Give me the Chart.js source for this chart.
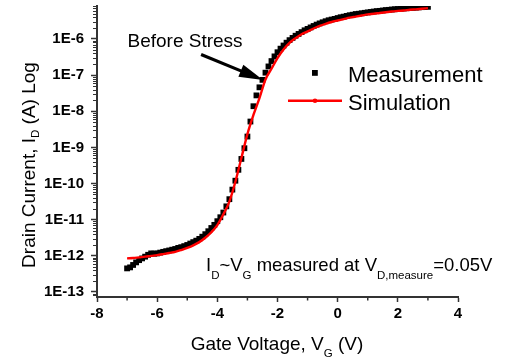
<!DOCTYPE html>
<html>
<head>
<meta charset="utf-8">
<script src="https://cdn.jsdelivr.net/npm/chart.js@4/dist/chart.umd.min.js"></script>
<style>
html,body{margin:0;padding:0;background:#fff;}
#wrap{width:510px;height:362px;position:relative;}
</style>
</head>
<body>
<div id="wrap"><canvas id="c" width="510" height="362"></canvas></div>
<script>
// ---------- DATA ----------
const seriesNames = ['Measurement', 'Simulation'];

const gateVoltageMeas = [
  -7.0,-6.9,-6.8,-6.7,-6.6,-6.5,-6.4,-6.3,-6.2,-6.1,
  -6.0,-5.9,-5.8,-5.7,-5.6,-5.5,-5.4,-5.3,-5.2,-5.1,
  -5.0,-4.9,-4.8,-4.7,-4.6,-4.5,-4.4,-4.3,-4.2,-4.1,
  -4.0,-3.9,-3.8,-3.7,-3.6,-3.5,-3.4,-3.3,-3.2,-3.1,
  -3.0,-2.9,-2.8,-2.7,-2.6,-2.5,-2.4,-2.3,-2.2,-2.1,
  -2.0,-1.9,-1.8,-1.7,-1.6,-1.5,-1.4,-1.3,-1.2,-1.1,
  -1.0,-0.9,-0.8,-0.7,-0.6,-0.5,-0.4,-0.3,-0.2,-0.1,
  0.0,0.1,0.2,0.3,0.4,0.5,0.6,0.7,0.8,0.9,
  1.0,1.1,1.2,1.3,1.4,1.5,1.6,1.7,1.8,1.9,
  2.0,2.1,2.2,2.3,2.4,2.5,2.6,2.7,2.8,2.9,
  3.0
];
const drainCurrentMeas = [
  4.5e-13,4.8e-13,5.6e-13,6.6e-13,7.6e-13,8.5e-13,9.5e-13,1.07e-12,1.17e-12,1.15e-12,
  1.17e-12,1.23e-12,1.29e-12,1.35e-12,1.41e-12,1.48e-12,1.55e-12,1.66e-12,1.74e-12,1.86e-12,
  2.0e-12,2.19e-12,2.4e-12,2.63e-12,2.95e-12,3.39e-12,3.98e-12,4.8e-12,5.9e-12,7.2e-12,
  9.1e-12,1.17e-11,1.58e-11,2.34e-11,3.7e-11,6.8e-11,1.2e-10,2.4e-10,4.8e-10,9.5e-10,
  2.0e-9,5.2e-9,1.38e-8,2.75e-8,4.6e-8,7.4e-8,1.17e-7,1.74e-7,2.45e-7,3.3e-7,
  4.3e-7,5.4e-7,6.6e-7,7.9e-7,9.3e-7,1.07e-6,1.23e-6,1.38e-6,1.55e-6,1.74e-6,
  1.9e-6,2.09e-6,2.29e-6,2.5e-6,2.7e-6,2.9e-6,3.1e-6,3.3e-6,3.45e-6,3.6e-6,
  3.8e-6,4.0e-6,4.15e-6,4.35e-6,4.55e-6,4.7e-6,4.9e-6,5.0e-6,5.15e-6,5.3e-6,
  5.45e-6,5.6e-6,5.75e-6,5.9e-6,6.0e-6,6.15e-6,6.3e-6,6.4e-6,6.55e-6,6.65e-6,
  6.75e-6,6.9e-6,7.0e-6,7.1e-6,7.2e-6,7.3e-6,7.4e-6,7.5e-6,7.6e-6,7.7e-6,
  7.75e-6
];

const gateVoltageSim = [
  -7.0,-6.8,-6.6,-6.4,-6.2,-6.0,-5.8,-5.6,-5.4,-5.2,
  -5.0,-4.8,-4.6,-4.4,-4.2,
  -4.0,-3.8,-3.6,-3.4,-3.2,-3.0,-2.8,-2.6,-2.4,-2.2,
  -2.0,-1.8,-1.6,-1.4,-1.2,-1.0,-0.8,-0.6,-0.4,-0.2,
  0.0,0.2,0.4,0.6,0.8,1.0,1.2,1.4,1.6,1.8,
  2.0,2.2,2.4,2.6,2.8,3.0
];
const drainCurrentSim = [
  8.5e-13,8.7e-13,9.1e-13,9.5e-13,1.0e-12,1.05e-12,1.12e-12,1.2e-12,1.29e-12,1.45e-12,
  1.66e-12,1.95e-12,2.4e-12,3.16e-12,4.5e-12,
  7.1e-12,1.41e-11,3.16e-11,1.12e-10,5.1e-10,2.34e-9,7.9e-9,2.3e-8,7.6e-8,1.5e-7,
  2.95e-7,5.1e-7,7.8e-7,1.05e-6,1.35e-6,1.62e-6,1.95e-6,2.3e-6,2.63e-6,2.95e-6,
  3.24e-6,3.55e-6,3.9e-6,4.17e-6,4.47e-6,4.8e-6,5.0e-6,5.25e-6,5.5e-6,5.75e-6,
  6.0e-6,6.15e-6,6.45e-6,6.6e-6,6.85e-6,7.1e-6
];

const xTickValues = [-8, -6, -4, -2, 0, 2, 4];
const xMinorTickValues = [-7, -5, -3, -1, 1, 3];
const yTickValues = [1e-13, 1e-12, 1e-11, 1e-10, 1e-9, 1e-8, 1e-7, 1e-6];
const yTickLabels = ['1E-13','1E-12','1E-11','1E-10','1E-9','1E-8','1E-7','1E-6'];
const xRange = [-8, 4];
const yRange = [7.27e-14, 8.18e-6];

// annotation anchor (data coords)
const arrowFrom = {x: -4.54, y: 3.72e-7};
const arrowTo = {x: -2.48, y: 7.35e-8};

// ---------- RENDER ----------
const FONT = "'Liberation Sans', Arial, Helvetica, sans-serif";
Chart.defaults.font.family = FONT;
Chart.defaults.color = '#000';

function drawRuns(ctx, x, y, runs, align) {
  let total = 0;
  runs.forEach(r => {
    ctx.font = (r.bold ? 'bold ' : '') + r.size + 'px ' + FONT;
    r.w = ctx.measureText(r.text).width;
    total += r.w;
  });
  let cx = align === 'center' ? x - total / 2 : x;
  ctx.textAlign = 'left';
  ctx.textBaseline = 'alphabetic';
  runs.forEach(r => {
    ctx.font = (r.bold ? 'bold ' : '') + r.size + 'px ' + FONT;
    ctx.fillText(r.text, cx, y + (r.dy || 0));
    cx += r.w;
  });
}

const yMinorTickValues = [];
for (let e = -14; e <= -6; e++) {
  for (let m = 2; m <= 9; m++) {
    const v = m * Math.pow(10, e);
    if (v > yRange[0] && v < yRange[1]) yMinorTickValues.push(v);
  }
}

const decorPlugin = {
  id: 'decor',
  afterDraw(chart) {
    const ctx = chart.ctx;
    const xs = chart.scales.x, ys = chart.scales.y;
    const area = chart.chartArea;
    ctx.save();
    // minor ticks
    ctx.strokeStyle = '#333';
    ctx.lineWidth = 1;
    yMinorTickValues.forEach(v => {
      const py = Math.round(ys.getPixelForValue(v)) + 0.5;
      ctx.beginPath();
      ctx.moveTo(area.left - 4, py);
      ctx.lineTo(area.left, py);
      ctx.stroke();
    });
    ctx.lineWidth = 1.5;
    xMinorTickValues.forEach(v => {
      const px = xs.getPixelForValue(v);
      ctx.beginPath();
      ctx.moveTo(px, area.bottom);
      ctx.lineTo(px, area.bottom + 3.5);
      ctx.stroke();
    });

    ctx.fillStyle = '#000';
    // Y axis title (rotated)
    ctx.save();
    ctx.translate(35, 165);
    ctx.rotate(-Math.PI / 2);
    drawRuns(ctx, 0, 0, [
      {text: 'Drain Current, I', size: 19},
      {text: 'D', size: 11.5, dy: 4},
      {text: ' (A) Log', size: 19}
    ], 'center');
    ctx.restore();

    // X axis title
    drawRuns(ctx, 277, 350, [
      {text: 'Gate Voltage, V', size: 19},
      {text: 'G', size: 11.5, dy: 6.5},
      {text: ' (V)', size: 19}
    ], 'center');

    // condition annotation
    drawRuns(ctx, 206, 271, [
      {text: 'I', size: 18.5},
      {text: 'D', size: 11.5, dy: 7.5},
      {text: '~V', size: 18.5},
      {text: 'G', size: 11.5, dy: 7.5},
      {text: ' measured at V', size: 18.5},
      {text: 'D,measure', size: 11.5, dy: 7.5},
      {text: '=0.05V', size: 18.5}
    ], 'left');

    // Before Stress label + arrow
    drawRuns(ctx, 127.5, 46.5, [{text: 'Before Stress', size: 19}], 'left');
    const ax0 = xs.getPixelForValue(arrowFrom.x), ay0 = ys.getPixelForValue(arrowFrom.y);
    const ax1 = xs.getPixelForValue(arrowTo.x), ay1 = ys.getPixelForValue(arrowTo.y);
    const ang = Math.atan2(ay1 - ay0, ax1 - ax0);
    const headLen = 24, headHalf = 6.5;
    const bx = ax1 - headLen * Math.cos(ang), by = ay1 - headLen * Math.sin(ang);
    ctx.strokeStyle = '#000';
    ctx.lineWidth = 3.2;
    ctx.beginPath();
    ctx.moveTo(ax0, ay0);
    ctx.lineTo(bx + 2 * Math.cos(ang), by + 2 * Math.sin(ang));
    ctx.stroke();
    ctx.beginPath();
    ctx.moveTo(ax1, ay1);
    ctx.lineTo(bx + headHalf * Math.sin(ang), by - headHalf * Math.cos(ang));
    ctx.lineTo(bx - headHalf * Math.sin(ang), by + headHalf * Math.cos(ang));
    ctx.closePath();
    ctx.fill();

    // legend
    const dsM = chart.data.datasets[0], dsS = chart.data.datasets[1];
    ctx.fillStyle = dsM.backgroundColor;
    ctx.fillRect(312, 70, 5.8, 5.8);
    ctx.strokeStyle = dsS.borderColor;
    ctx.lineWidth = dsS.borderWidth;
    ctx.beginPath();
    ctx.moveTo(288, 100.7);
    ctx.lineTo(342, 100.7);
    ctx.stroke();
    ctx.fillStyle = dsS.borderColor;
    ctx.beginPath();
    ctx.arc(315, 100.7, 2.3, 0, Math.PI * 2);
    ctx.fill();
    ctx.fillStyle = '#000';
    drawRuns(ctx, 348, 81.5, [{text: seriesNames[0], size: 22}], 'left');
    drawRuns(ctx, 348, 109.5, [{text: seriesNames[1], size: 22}], 'left');
    ctx.restore();
  }
};

new Chart(document.getElementById('c'), {
  type: 'scatter',
  data: {
    datasets: [
      {
        label: seriesNames[0],
        data: gateVoltageMeas.map((v, i) => ({x: v, y: drainCurrentMeas[i]})),
        pointStyle: 'rect',
        pointRadius: 4.1,
        backgroundColor: '#000',
        borderColor: '#000',
        borderWidth: 0,
        showLine: false,
        order: 2
      },
      {
        label: seriesNames[1],
        data: gateVoltageSim.map((v, i) => ({x: v, y: drainCurrentSim[i]})),
        showLine: true,
        borderColor: '#ff0000',
        backgroundColor: '#ff0000',
        borderWidth: 2.4,
        pointRadius: 0,
        cubicInterpolationMode: 'monotone',
        order: 1
      }
    ]
  },
  options: {
    responsive: false,
    animation: false,
    devicePixelRatio: 1,
    layout: {padding: {left: 0, top: 6, right: 52, bottom: 0}},
    plugins: {legend: {display: false}, tooltip: {enabled: false}},
    scales: {
      x: {
        type: 'linear',
        min: xRange[0], max: xRange[1],
        afterBuildTicks: s => { s.ticks = xTickValues.map(v => ({value: v})); },
        afterFit: s => { s.height = 65; s.paddingLeft = 0; s.paddingRight = 0; },
        ticks: {
          font: {size: 15, weight: 'bold'}, color: '#000', padding: 3,
          maxRotation: 0, autoSkip: false,
          callback: v => String(v)
        },
        grid: {drawOnChartArea: false, drawTicks: true, tickLength: 5, color: '#333', tickWidth: 1.5},
        border: {display: true, color: '#333', width: 2}
      },
      y: {
        type: 'logarithmic',
        min: yRange[0], max: yRange[1],
        afterBuildTicks: s => { s.ticks = yTickValues.map(v => ({value: v})); },
        afterFit: s => { s.width = 97; s.paddingTop = 0; s.paddingBottom = 0; },
        ticks: {
          font: {size: 15, weight: 'bold'}, color: '#000', padding: 7,
          autoSkip: false,
          callback: (v) => {
            const i = yTickValues.findIndex(t => Math.abs(Math.log10(t) - Math.log10(v)) < 1e-6);
            return i >= 0 ? yTickLabels[i] : '';
          }
        },
        grid: {drawOnChartArea: false, drawTicks: true, tickLength: 6, color: '#333', tickWidth: 1.5},
        border: {display: true, color: '#333', width: 2}
      }
    }
  },
  plugins: [decorPlugin]
});
</script>
</body>
</html>
